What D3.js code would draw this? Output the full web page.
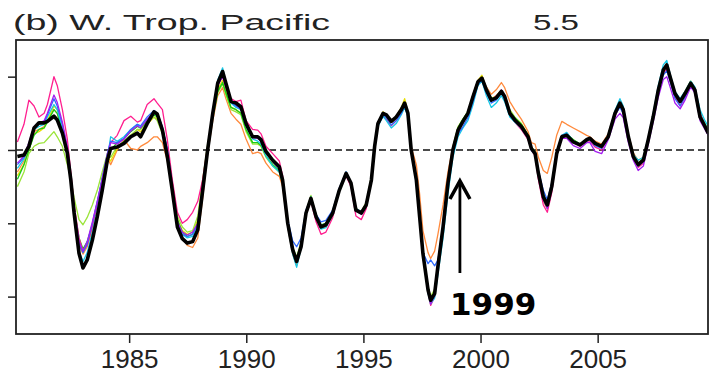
<!DOCTYPE html>
<html>
<head>
<meta charset="utf-8">
<script src="https://cdn.jsdelivr.net/npm/d3@7"></script>
<style>
  body { margin: 0; background: #fff; }
  svg { display: block; }
</style>
</head>
<body>
<svg width="712" height="382"></svg>
<script>
var width = 712, height = 382;

// time axis shared by all series (decimal years)
var years = [1980.23,1980.51,1980.72,1980.94,1981.15,1981.37,1981.51,1981.79,1981.93,1982.15,1982.36,
  1982.51,1982.65,1982.86,1983.03,1983.21,1983.43,1983.64,1983.85,1984.07,
  1984.21,1984.49,1984.78,1985.07,1985.35,1985.49,1985.77,1986.06,1986.20,1986.42,1986.63,
  1986.84,1987.06,1987.27,1987.48,1987.71,1987.93,1988.14,1988.35,
  1988.57,1988.78,1988.99,1989.13,1989.35,1989.56,1989.77,1989.99,1990.27,1990.49,1990.63,1990.84,1991.13,1991.41,1991.55,
  1991.77,1991.98,1992.15,1992.34,1992.55,1992.76,1992.98,1993.19,1993.40,1993.69,1993.97,1994.26,1994.47,1994.68,1994.91,1995.12,1995.34,
  1995.48,1995.62,1995.84,1995.98,1996.19,1996.40,1996.62,1996.76,1996.90,1997.04,
  1997.26,1997.40,1997.54,1997.76,1997.87,1998.04,1998.18,1998.40,1998.61,1998.82,1999.04,1999.25,
  1999.46,1999.68,1999.89,2000.06,2000.25,2000.46,2000.67,2000.89,2001.03,2001.25,2001.46,2001.74,2002.03,
  2002.17,2002.33,2002.47,2002.68,2002.85,2003.04,2003.25,2003.47,2003.68,2003.96,2004.25,2004.53,2004.67,2004.89,2005.17,
  2005.45,2005.74,2005.95,2006.09,2006.31,2006.52,2006.73,2006.95,2007.16,2007.37,2007.59,2007.80,2007.95,2008.09,2008.30,2008.52,2008.73,2008.97,2009.15,2009.37,2009.58,2009.72];

// thick black curve
var observed = [-0.09,-0.07,0.05,0.30,0.37,0.37,0.39,0.46,0.41,0.23,-0.04,
  -0.41,-0.86,-1.41,-1.61,-1.50,-1.23,-0.91,-0.55,-0.14,
  0.02,0.04,0.09,0.18,0.23,0.18,0.36,0.52,0.49,0.27,-0.09,
  -0.55,-1.05,-1.21,-1.27,-1.25,-1.09,-0.55,0.00,
  0.50,0.91,1.07,0.91,0.66,0.64,0.59,0.36,0.18,0.18,0.14,-0.02,-0.14,-0.23,-0.41,
  -1.00,-1.36,-1.52,-1.32,-0.86,-0.66,-0.91,-1.05,-1.02,-0.86,-0.55,-0.32,-0.45,-0.82,-0.86,-0.75,-0.41,
  0.05,0.36,0.50,0.48,0.39,0.45,0.55,0.64,0.50,0.00,
  -0.41,-0.91,-1.41,-1.91,-2.05,-1.96,-1.59,-1.05,-0.45,0.00,0.27,0.39,
  0.50,0.73,0.93,0.98,0.82,0.68,0.71,0.80,0.73,0.50,0.41,0.32,0.18,
  0.02,-0.05,-0.32,-0.64,-0.75,-0.50,-0.05,0.18,0.20,0.11,0.07,0.14,0.16,0.09,0.05,
  0.18,0.50,0.64,0.55,0.18,-0.09,-0.20,-0.14,0.14,0.45,0.82,1.09,1.16,1.00,0.77,0.66,0.77,0.91,0.82,0.45,0.32,0.23];

// thin ensemble members
var memberPink = [0.11,0.35,0.68,0.60,0.45,0.50,0.62,1.00,0.88,0.55,0.15,
  -0.30,-0.75,-1.20,-1.38,-1.30,-1.05,-0.75,-0.40,-0.05,
  0.10,0.20,0.40,0.46,0.38,0.40,0.62,0.70,0.64,0.55,0.14,
  -0.40,-0.85,-1.00,-0.95,-0.85,-0.70,-0.40,0.05,
  0.48,0.88,1.00,0.85,0.70,0.66,0.68,0.40,0.28,0.27,0.22,0.05,-0.05,-0.15,-0.35,
  -1.02,-1.38,-1.50,-1.28,-0.88,-0.70,-0.98,-1.15,-1.12,-0.92,-0.55,-0.35,-0.50,-0.90,-0.95,-0.80,-0.42,
  0.04,0.34,0.46,0.42,0.33,0.40,0.50,0.60,0.46,-0.02,
  -0.40,-0.90,-1.40,-1.94,-2.12,-2.00,-1.62,-1.08,-0.50,-0.04,0.25,0.38,
  0.48,0.72,0.92,0.96,0.80,0.68,0.74,0.80,0.70,0.48,0.38,0.28,0.14,
  0.00,-0.08,-0.40,-0.75,-0.85,-0.58,-0.08,0.18,0.22,0.10,0.05,0.12,0.12,0.04,0.00,
  0.16,0.46,0.60,0.52,0.16,-0.10,-0.24,-0.18,0.12,0.44,0.80,1.05,1.10,0.95,0.72,0.60,0.72,0.88,0.84,0.50,0.34,0.26];

var memberOrange = [-0.30,-0.15,0.05,0.25,0.28,0.32,0.40,0.55,0.50,0.25,-0.05,
  -0.40,-0.85,-1.30,-1.42,-1.32,-1.08,-0.80,-0.45,-0.10,
  -0.20,0.00,0.14,0.02,0.00,0.05,0.10,0.18,0.18,0.10,-0.15,
  -0.55,-1.05,-1.20,-1.30,-1.33,-1.20,-0.65,-0.05,
  0.40,0.74,0.85,0.70,0.50,0.42,0.35,0.15,-0.05,-0.03,-0.05,-0.18,-0.30,-0.36,-0.50,
  -1.05,-1.42,-1.58,-1.30,-0.85,-0.64,-0.90,-1.06,-1.05,-0.88,-0.56,-0.33,-0.46,-0.80,-0.86,-0.74,-0.40,
  0.08,0.38,0.50,0.46,0.38,0.42,0.55,0.65,0.52,0.04,
  -0.20,-0.60,-1.10,-1.40,-1.48,-1.38,-1.15,-0.75,-0.30,0.05,0.30,0.40,
  0.52,0.76,0.95,1.00,0.86,0.76,0.82,0.92,0.85,0.66,0.55,0.42,0.25,
  0.10,0.08,-0.10,-0.28,-0.32,-0.10,0.20,0.39,0.35,0.30,0.25,0.20,0.18,0.12,0.08,
  0.22,0.52,0.66,0.58,0.22,-0.04,-0.14,-0.10,0.16,0.46,0.82,1.08,1.12,0.98,0.76,0.66,0.76,0.90,0.82,0.46,0.32,0.24];

var memberYellow = [-0.35,-0.20,0.00,0.22,0.25,0.30,0.40,0.60,0.55,0.30,0.00,
  -0.35,-0.80,-1.25,-1.40,-1.30,-1.05,-0.75,-0.42,-0.10,
  -0.15,0.02,0.12,0.20,0.28,0.25,0.35,0.45,0.42,0.25,-0.05,
  -0.50,-0.95,-1.10,-1.15,-1.12,-0.95,-0.45,0.05,
  0.45,0.82,0.95,0.80,0.58,0.55,0.50,0.28,0.10,0.10,0.05,-0.08,-0.20,-0.30,-0.45,
  -0.98,-1.35,-1.50,-1.30,-0.86,-0.66,-0.92,-1.05,-1.02,-0.86,-0.56,-0.32,-0.44,-0.80,-0.84,-0.72,-0.38,
  0.06,0.37,0.52,0.48,0.40,0.46,0.58,0.70,0.52,0.02,
  -0.40,-0.90,-1.40,-1.88,-2.02,-1.92,-1.55,-1.02,-0.42,0.02,0.30,0.42,
  0.52,0.75,0.95,1.02,0.84,0.70,0.74,0.82,0.74,0.52,0.44,0.36,0.20,
  0.02,-0.04,-0.32,-0.70,-0.80,-0.55,-0.05,0.18,0.20,0.12,0.08,0.15,0.16,0.10,0.06,
  0.18,0.50,0.62,0.54,0.18,-0.08,-0.18,-0.12,0.16,0.46,0.84,1.10,1.18,1.00,0.78,0.68,0.80,0.94,0.84,0.48,0.34,0.25];

var memberLime = [-0.50,-0.30,-0.05,0.05,0.09,0.10,0.15,0.25,0.18,0.05,-0.20,
  -0.40,-0.65,-0.95,-1.02,-0.92,-0.75,-0.55,-0.30,-0.05,
  -0.10,0.05,0.12,0.20,0.28,0.28,0.38,0.45,0.40,0.22,-0.05,
  -0.45,-0.90,-1.05,-1.12,-1.10,-0.90,-0.40,0.08,
  0.45,0.78,0.90,0.75,0.55,0.52,0.48,0.25,0.08,0.08,0.05,-0.10,-0.22,-0.30,-0.45,
  -0.98,-1.32,-1.46,-1.25,-0.84,-0.62,-0.90,-1.04,-1.00,-0.84,-0.54,-0.32,-0.44,-0.80,-0.84,-0.72,-0.36,
  0.06,0.36,0.50,0.46,0.38,0.44,0.54,0.64,0.50,0.00,
  -0.38,-0.88,-1.38,-1.86,-2.00,-1.90,-1.55,-1.00,-0.42,0.04,0.32,0.42,
  0.50,0.73,0.92,0.96,0.82,0.70,0.72,0.80,0.74,0.55,0.45,0.36,0.20,
  0.04,-0.02,-0.28,-0.60,-0.70,-0.45,-0.02,0.20,0.22,0.14,0.08,0.14,0.15,0.10,0.06,
  0.18,0.48,0.62,0.54,0.18,-0.08,-0.18,-0.12,0.15,0.46,0.82,1.08,1.14,0.98,0.76,0.66,0.78,0.92,0.84,0.50,0.36,0.28];

var memberGreen = [-0.40,-0.20,0.00,0.20,0.28,0.30,0.38,0.55,0.50,0.28,0.00,
  -0.38,-0.78,-1.20,-1.35,-1.25,-1.02,-0.72,-0.40,-0.08,
  0.00,0.10,0.15,0.25,0.32,0.30,0.40,0.48,0.45,0.25,-0.05,
  -0.50,-0.95,-1.12,-1.18,-1.15,-1.00,-0.50,0.02,
  0.45,0.80,0.92,0.78,0.58,0.55,0.50,0.28,0.10,0.10,0.06,-0.08,-0.20,-0.28,-0.45,
  -0.98,-1.34,-1.48,-1.28,-0.85,-0.64,-0.88,-1.02,-1.00,-0.84,-0.55,-0.33,-0.46,-0.80,-0.85,-0.74,-0.40,
  0.06,0.36,0.50,0.46,0.38,0.44,0.54,0.62,0.50,0.00,
  -0.40,-0.90,-1.40,-1.90,-2.04,-1.94,-1.58,-1.04,-0.44,0.02,0.30,0.42,
  0.52,0.74,0.93,0.97,0.83,0.70,0.72,0.80,0.72,0.52,0.44,0.35,0.20,
  0.03,-0.04,-0.30,-0.62,-0.72,-0.48,-0.04,0.19,0.22,0.14,0.08,0.14,0.16,0.10,0.06,
  0.18,0.48,0.60,0.52,0.18,-0.08,-0.18,-0.12,0.15,0.45,0.82,1.08,1.14,0.98,0.76,0.66,0.78,0.93,0.84,0.48,0.35,0.26];

var memberCyan = [-0.25,-0.12,0.05,0.28,0.32,0.35,0.45,0.62,0.55,0.30,0.00,
  -0.42,-0.88,-1.38,-1.52,-1.40,-1.12,-0.82,-0.48,-0.12,
  0.18,0.12,0.18,0.28,0.35,0.32,0.42,0.50,0.48,0.30,0.00,
  -0.52,-1.00,-1.15,-1.20,-1.18,-1.05,-0.55,0.00,
  0.52,0.95,1.12,0.92,0.64,0.58,0.55,0.32,0.15,0.12,0.08,-0.08,-0.22,-0.30,-0.45,
  -1.04,-1.42,-1.60,-1.34,-0.85,-0.64,-0.92,-1.08,-1.06,-0.88,-0.55,-0.30,-0.45,-0.82,-0.86,-0.76,-0.42,
  0.02,0.32,0.46,0.40,0.30,0.36,0.48,0.58,0.46,-0.02,
  -0.42,-0.92,-1.44,-1.96,-2.10,-2.02,-1.70,-1.20,-0.60,-0.10,0.18,0.30,
  0.40,0.62,0.88,0.94,0.74,0.58,0.64,0.74,0.66,0.45,0.38,0.30,0.16,
  0.00,-0.06,-0.30,-0.62,-0.72,-0.48,-0.05,0.20,0.24,0.12,0.08,0.14,0.16,0.08,0.04,
  0.20,0.54,0.70,0.60,0.20,-0.06,-0.14,-0.10,0.18,0.50,0.88,1.16,1.22,1.04,0.80,0.70,0.80,0.94,0.86,0.55,0.40,0.32];

var memberBlue = [-0.20,-0.10,0.08,0.30,0.35,0.38,0.48,0.70,0.60,0.35,0.02,
  -0.38,-0.80,-1.28,-1.40,-1.28,-1.00,-0.70,-0.38,-0.05,
  0.12,0.10,0.16,0.28,0.35,0.33,0.45,0.54,0.50,0.32,0.00,
  -0.50,-1.00,-1.15,-1.18,-1.15,-1.02,-0.52,0.00,
  0.50,0.90,1.02,0.88,0.65,0.60,0.56,0.35,0.18,0.16,0.12,-0.04,-0.16,-0.26,-0.42,
  -0.95,-1.24,-1.32,-1.20,-0.82,-0.66,-0.88,-0.98,-0.96,-0.82,-0.52,-0.30,-0.44,-0.80,-0.84,-0.74,-0.42,
  0.03,0.34,0.48,0.44,0.34,0.40,0.50,0.60,0.48,0.00,
  -0.42,-0.92,-1.40,-1.55,-1.50,-1.58,-1.50,-1.08,-0.52,-0.05,0.22,0.32,
  0.44,0.66,0.90,0.95,0.78,0.64,0.68,0.78,0.70,0.48,0.40,0.30,0.16,
  0.00,-0.06,-0.28,-0.55,-0.68,-0.45,-0.04,0.20,0.22,0.10,0.06,0.12,0.14,0.06,0.02,
  0.18,0.48,0.58,0.50,0.15,-0.10,-0.22,-0.16,0.12,0.42,0.78,1.02,1.08,0.94,0.70,0.60,0.72,0.88,0.80,0.46,0.34,0.26];

var memberPurple = [-0.18,-0.08,0.10,0.32,0.36,0.40,0.50,0.75,0.65,0.38,0.05,
  -0.36,-0.80,-1.25,-1.38,-1.25,-0.98,-0.70,-0.40,-0.08,
  0.10,0.08,0.15,0.26,0.33,0.30,0.42,0.52,0.50,0.30,0.00,
  -0.50,-0.98,-1.12,-1.16,-1.12,-1.00,-0.50,0.02,
  0.50,0.88,1.00,0.86,0.68,0.62,0.56,0.34,0.17,0.16,0.12,-0.03,-0.15,-0.25,-0.42,
  -1.00,-1.36,-1.50,-1.30,-0.86,-0.66,-0.92,-1.04,-1.02,-0.86,-0.54,-0.32,-0.45,-0.83,-0.88,-0.76,-0.42,
  0.05,0.36,0.50,0.48,0.40,0.44,0.54,0.62,0.50,0.02,
  -0.42,-0.92,-1.42,-1.94,-2.10,-1.98,-1.60,-1.06,-0.46,0.00,0.28,0.38,
  0.48,0.72,0.92,0.98,0.80,0.68,0.72,0.82,0.72,0.50,0.40,0.30,0.16,
  0.00,-0.06,-0.34,-0.68,-0.80,-0.54,-0.06,0.16,0.16,0.06,0.02,0.10,0.10,-0.02,-0.05,
  0.14,0.42,0.50,0.44,0.10,-0.14,-0.28,-0.22,0.08,0.38,0.72,0.96,1.00,0.86,0.64,0.56,0.68,0.86,0.78,0.40,0.28,0.20];

var xTicks = [1985, 1990, 1995, 2000, 2005];
var yTicks = [1, 0, -1, -2];

var members = [
  {values: memberOrange, color: "#ff8a3d"},
  {values: memberYellow, color: "#e8e000"},
  {values: memberLime, color: "#9be43a"},
  {values: memberGreen, color: "#18cc18"},
  {values: memberPink, color: "#ff1f8f"},
  {values: memberCyan, color: "#16c8e6"},
  {values: memberBlue, color: "#2f6bff"},
  {values: memberPurple, color: "#a41df0"}
];

var svg = d3.select("svg");

var x = d3.scaleLinear().domain([1980.17, 2009.71]).range([16, 708]);
var y = d3.scaleLinear().domain([-2.51, 1.5]).range([334, 40]);

var line = d3.line()
    .x(function (d, i) { return x(years[i]); })
    .y(function (d) { return y(d); });

var clip = svg.append("clipPath").attr("id", "plotclip")
  .append("rect").attr("x", 16).attr("y", 40).attr("width", 692).attr("height", 294);

var plot = svg.append("g").attr("clip-path", "url(#plotclip)");

// zero line
plot.append("line")
    .attr("x1", x.range()[0]).attr("x2", x.range()[1])
    .attr("y1", y(0)).attr("y2", y(0))
    .attr("stroke", "#111")
    .attr("stroke-width", 1.4)
    .attr("stroke-dasharray", "7,4");

members.forEach(function (m) {
    plot.append("path")
        .datum(m.values.slice(0, years.length))
        .attr("d", line)
        .attr("fill", "none")
        .attr("stroke", m.color)
        .attr("stroke-width", 1.3)
        .attr("stroke-linejoin", "round");
});

plot.append("path")
    .datum(observed)
    .attr("d", line)
    .attr("fill", "none")
    .attr("stroke", "#000")
    .attr("stroke-width", 3.6)
    .attr("stroke-linejoin", "round");

// frame
svg.append("rect")
    .attr("x", 16).attr("y", 40).attr("width", 692).attr("height", 294)
    .attr("fill", "none").attr("stroke", "#222").attr("stroke-width", 1.8);

// axes
var xAxis = d3.axisBottom(x).tickValues(xTicks).tickSize(9).tickFormat(d3.format("d"));
var gx = svg.append("g").attr("transform", "translate(0,334)").call(xAxis);
gx.select(".domain").remove();
gx.selectAll(".tick line").attr("stroke", "#222").attr("stroke-width", 1.5);
gx.selectAll(".tick text")
    .attr("y", 34)
    .attr("dy", null)
    .attr("fill", "#222")
    .style("font-family", "'Liberation Sans', Arial, sans-serif")
    .style("font-size", "26px");

var yAxis = d3.axisLeft(y).tickValues(yTicks).tickSize(8).tickFormat("");
var gy = svg.append("g").attr("transform", "translate(16,0)").call(yAxis);
gy.select(".domain").remove();
gy.selectAll(".tick line").attr("stroke", "#222").attr("stroke-width", 1.5);

// titles
svg.append("text")
    .attr("x", 13).attr("y", 30)
    .attr("textLength", 317).attr("lengthAdjust", "spacingAndGlyphs")
    .style("font-family", "'Liberation Sans', Arial, sans-serif")
    .style("font-size", "22px")
    .attr("fill", "#222")
    .text("(b) W. Trop. Pacific");

svg.append("text")
    .attr("x", 533).attr("y", 30)
    .attr("textLength", 46).attr("lengthAdjust", "spacingAndGlyphs")
    .style("font-family", "'Liberation Sans', Arial, sans-serif")
    .style("font-size", "22px")
    .attr("fill", "#222")
    .text("5.5");

// 1999 annotation
var ax = x(1999.12);
svg.append("line")
    .attr("x1", ax).attr("x2", ax).attr("y1", 273).attr("y2", 182)
    .attr("stroke", "#000").attr("stroke-width", 2.8);
svg.append("path")
    .attr("d", "M" + (ax - 10) + ",199 L" + ax + ",181 L" + (ax + 10) + ",199")
    .attr("fill", "none").attr("stroke", "#000").attr("stroke-width", 3.6)
    .attr("stroke-linejoin", "miter");
svg.append("text")
    .attr("x", 450).attr("y", 315)
    .style("font-family", "'DejaVu Sans', Verdana, sans-serif")
    .style("font-weight", "bold")
    .style("font-size", "31px")
    .attr("fill", "#000")
    .text("1999");
</script>
</body>
</html>
